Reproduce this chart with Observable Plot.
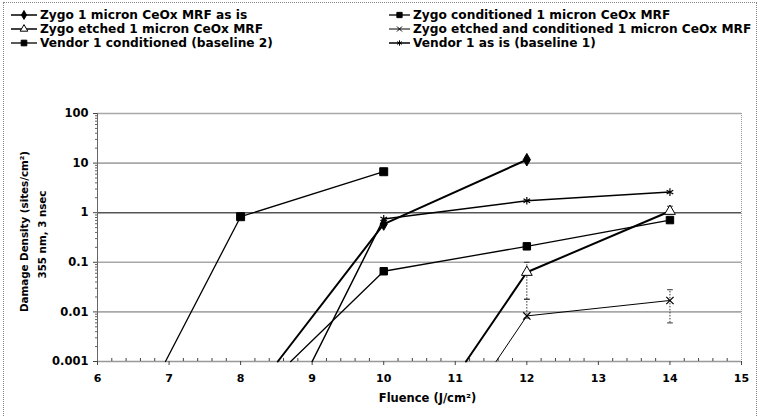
<!DOCTYPE html>
<html><head><meta charset="utf-8">
<script src="https://cdn.jsdelivr.net/npm/d3@7"></script>
<script src="https://cdn.jsdelivr.net/npm/@observablehq/plot@0.6"></script>
<style>
body{margin:0;background:#fff;font-family:"DejaVu Sans",sans-serif;}
#wrap{position:relative;width:762px;height:416px;overflow:hidden;background:#fff;}
#frame{position:absolute;left:3px;top:2px;width:754px;height:430px;border:1px dotted #888;box-sizing:border-box;}
#legend{position:absolute;left:0;top:0;width:762px;height:60px;}
.item{position:absolute;display:flex;align-items:center;font-weight:bold;font-size:12.2px;white-space:nowrap;color:#000;height:14px;}
.item svg{margin-right:2px;}
#chart{position:absolute;left:0;top:60px;}
</style></head>
<body>
<div id="wrap"><div id="frame"></div><div id="legend"></div><div id="chart"></div></div>
<script>
// ---- data ----
const seriesNames = [
  "Zygo 1 micron CeOx MRF as is",
  "Zygo conditioned 1 micron CeOx MRF",
  "Zygo etched 1 micron CeOx MRF",
  "Zygo etched and conditioned 1 micron CeOx MRF",
  "Vendor 1 conditioned (baseline 2)",
  "Vendor 1 as is (baseline 1)"
];
const fluenceZygoAsIs = [8.52, 10, 12];
const densityZygoAsIs = [0.001, 0.59, 11.7];
const fluenceZygoCond = [8.7, 10, 12, 14];
const densityZygoCond = [0.001, 0.066, 0.21, 0.71];
const fluenceZygoEtched = [11.15, 12, 14];
const densityZygoEtched = [0.001, 0.063, 1.07];
const fluenceZygoEtchedCond = [11.57, 12, 14];
const densityZygoEtchedCond = [0.001, 0.0083, 0.017];
const fluenceVendorCond = [6.95, 8, 10];
const densityVendorCond = [0.001, 0.83, 6.7];
const fluenceVendorAsIs = [9, 10, 12, 14];
const densityVendorAsIs = [0.001, 0.75, 1.74, 2.6];

const errSeries = [2, 3, 3, 2];
const errFluence = [12, 12, 14, 14];
const errLow = [0.018, 0.0075, 0.006, 0.95];
const errHigh = [0.1, 0.018, 0.028, 1.35];

const xTicks = [6, 7, 8, 9, 10, 11, 12, 13, 14, 15];
const yTicks = [0.001, 0.01, 0.1, 1, 10, 100];
const yTickLabels = ["0.001", "0.01", "0.1", "1", "10", "100"];

// ---- styles per series ----
const symbols = ["diamond", "square", "triangle", "times", "square", "asterisk"];
const d3symbols = [d3.symbolDiamond, d3.symbolSquare, d3.symbolTriangle, d3.symbolTimes, d3.symbolSquare, d3.symbolAsterisk];
const fills = ["black", "black", "white", "none", "black", "none"];
const radii = [3.8, 4.2, 4.0, 3.4, 4.5, 3.6];
const widths = [2, 1.3, 2, 1, 1.3, 1.5];

const seriesX = [fluenceZygoAsIs, fluenceZygoCond, fluenceZygoEtched, fluenceZygoEtchedCond, fluenceVendorCond, fluenceVendorAsIs];
const seriesY = [densityZygoAsIs, densityZygoCond, densityZygoEtched, densityZygoEtchedCond, densityVendorCond, densityVendorAsIs];

const rows = seriesNames.map((name, i) => seriesX[i].map((x, j) => ({series: i, x, y: seriesY[i][j]}))).flat();
const errs = errSeries.map((s, i) => ({series: s, x: errFluence[i], lo: errLow[i], hi: errHigh[i]}));

const minorX = d3.range(60, 151, 2).map(v => v / 10).filter(v => !Number.isInteger(v));
const minorY = [];
[0.001, 0.01, 0.1, 1, 10].forEach(d => { for (let k = 2; k <= 9; k++) minorY.push(d * k); });

const marks = [
  Plot.ruleY(yTicks.filter(v => v !== 1 && v !== 0.001), {y: d => d, stroke: "#a8a8a8", strokeWidth: 1.6}),
  Plot.ruleY([1], {y: d => d, stroke: "#555", strokeWidth: 1.6}),
  Plot.ruleY([0.001], {y: d => d, stroke: "#999", strokeWidth: 1.4}),
  Plot.ruleX([15], {x: d => d, stroke: "#999", strokeDasharray: "1,1"}),
  Plot.ruleX([6], {x: d => d, stroke: "#666"}),
  Plot.axisY(yTicks, {tickSize: 4, tickPadding: 5, tickFormat: (d) => yTickLabels[yTicks.indexOf(d)], fontSize: 11.5, label: null, stroke: "#444"}),
  Plot.axisY(minorY, {tickSize: 2, tickFormat: () => "", label: null, stroke: "#666"}),
  Plot.axisX(xTicks, {tickSize: 4, tickPadding: 9, fontSize: 11, label: null, stroke: "#444"}),
  Plot.axisX(minorX, {tickSize: -3, tickFormat: () => "", label: null, stroke: "#444"}),
  Plot.ruleX(errs, {x: "x", y1: "lo", y2: "hi", stroke: "#333", strokeDasharray: "1.5,1.5"}),
  Plot.link(errs, {x1: d => d.x - 0.04, x2: d => d.x + 0.04, y1: "hi", y2: "hi", stroke: "#333"}),
  Plot.link(errs, {x1: d => d.x - 0.04, x2: d => d.x + 0.04, y1: "lo", y2: "lo", stroke: "#333"}),
];
seriesNames.forEach((name, i) => {
  const data = rows.filter(r => r.series === i);
  marks.push(Plot.line(data, {x: "x", y: "y", stroke: "black", strokeWidth: widths[i]}));
});
seriesNames.forEach((name, i) => {
  const data = rows.filter(r => r.series === i && r.y > 0.001);
  marks.push(Plot.dot(data, {x: "x", y: "y", symbol: () => symbols[i], r: radii[i], fill: fills[i], stroke: "black", strokeWidth: fills[i] === "none" ? 1.2 : 1}));
});
marks.push(
  Plot.text(["Damage Density (sites/cm²)"], {text: d => d, frameAnchor: "left", textAnchor: "middle", rotate: -90, dx: -73, dy: -6, fontSize: 10.3}),
  Plot.text(["355 nm, 3 nsec"], {text: d => d, frameAnchor: "left", textAnchor: "middle", rotate: -90, dx: -55, dy: -3, fontSize: 10.3}),
  Plot.text(["Fluence (J/cm²)"], {text: d => d, frameAnchor: "bottom", dy: 40, dx: 8, fontSize: 11.5})
);

const chart = Plot.plot({
  width: 762,
  height: 356,
  marginLeft: 97,
  marginRight: 21,
  marginTop: 53,
  marginBottom: 55,
  x: {domain: [6, 15]},
  y: {type: "log", domain: [0.001, 100]},
  style: {fontFamily: "'DejaVu Sans', sans-serif", fontWeight: "bold", color: "black", background: "transparent"},
  marks
});
document.getElementById("chart").appendChild(chart);

// ---- legend ----
const legend = d3.select("#legend");
const legendPos = [[10, 8], [388, 8], [10, 22], [388, 22], [10, 36], [388, 36]];
seriesNames.forEach((name, i) => {
  const [lx, ly] = legendPos[i];
  const item = legend.append("div").attr("class", "item").style("left", lx + "px").style("top", ly + "px");
  const sw = i % 2 === 0 ? 28 : 23;
  const svg = item.append("svg").attr("width", sw).attr("height", 12);
  svg.append("line").attr("x1", 1).attr("x2", sw - 1).attr("y1", 6).attr("y2", 6).attr("stroke", "black").attr("stroke-width", Math.min(widths[i], 1.5));
  svg.append("path").attr("transform", `translate(${sw / 2},6)`)
    .attr("d", d3.symbol().type(d3symbols[i]).size(Math.PI * radii[i] * radii[i] * 0.5)())
    .attr("fill", fills[i]).attr("stroke", "black").attr("stroke-width", 1);
  item.append("span").text(name);
});
</script>
</body></html>
